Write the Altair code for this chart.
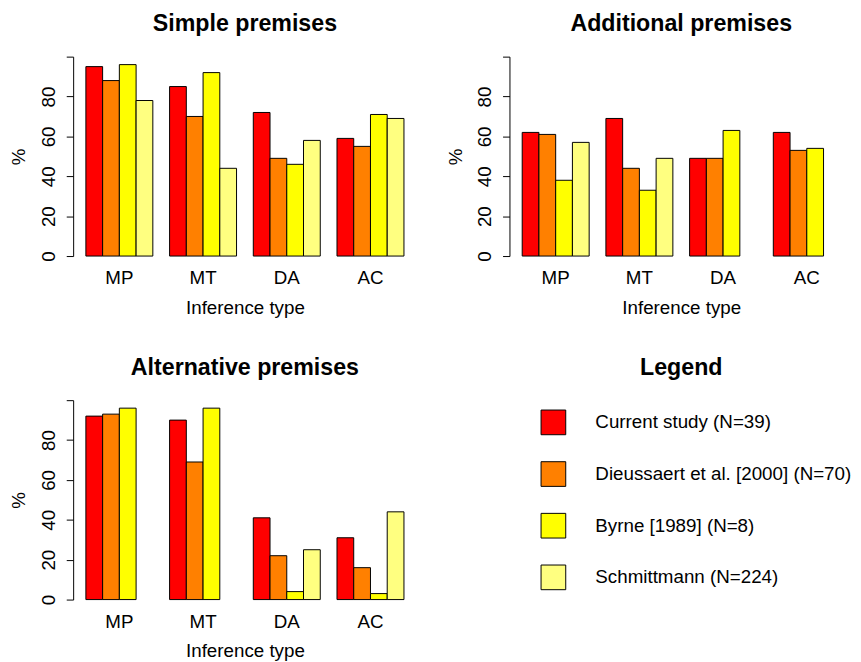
import altair as alt
import pandas as pd

inferences = ["MP", "MT", "DA", "AC"]
series = [
    "Current study (N=39)",
    "Dieussaert et al. [2000] (N=70)",
    "Byrne [1989] (N=8)",
    "Schmittmann (N=224)",
]
colors = ["#FF0000", "#FF8000", "#FFFF00", "#FFFF80"]

# values per series, in order MP, MT, DA, AC (None = missing)
simple_current = [95, 85, 72, 59]
simple_dieussaert = [88, 70, 49, 55]
simple_byrne = [96, 92, 46, 71]
simple_schmittmann = [78, 44, 58, 69]

additional_current = [62, 69, 49, 62]
additional_dieussaert = [61, 44, 49, 53]
additional_byrne = [38, 33, 63, 54]
additional_schmittmann = [57, 49, None, None]

alternative_current = [92, 90, 41, 31]
alternative_dieussaert = [93, 69, 22, 16]
alternative_byrne = [96, 96, 4, 3]
alternative_schmittmann = [None, None, 25, 44]

FONT = "Liberation Sans"


def make_df(cols):
    rows = []
    for s, vals in zip(series, cols):
        for inf, v in zip(inferences, vals):
            if v is not None:
                rows.append({"inference": inf, "series": s, "value": v})
    return pd.DataFrame(rows)


def title(text):
    return alt.TitleParams(
        text=text, font=FONT, fontSize=23.5, fontWeight="bold", color="black",
        anchor="middle", frame="group", baseline="alphabetic", offset=2,
    )


def panel(text, cols):
    df = make_df(cols)
    return (
        alt.Chart(df, title=title(text))
        .mark_bar(stroke="black", strokeWidth=1)
        .encode(
            x=alt.X(
                "inference:N",
                sort=inferences,
                scale=alt.Scale(domain=inferences, paddingInner=0.2, paddingOuter=0.152),
                axis=alt.Axis(
                    title="Inference type", labelAngle=0, ticks=False, tickSize=0,
                    domain=False, labelPadding=28, labelBaseline="alphabetic",
                    labelFont=FONT, labelFontSize=19, labelColor="black",
                    titleFont=FONT, titleFontSize=19, titleFontWeight="normal",
                    titleColor="black", titleX=174, titleY=58,
                    titleBaseline="alphabetic", titleAlign="center",
                ),
            ),
            xOffset=alt.XOffset(
                "series:N", sort=series,
                scale=alt.Scale(domain=series, paddingInner=0, paddingOuter=0),
            ),
            y=alt.Y(
                "value:Q",
                scale=alt.Scale(domain=[0, 100], nice=False, zero=True),
                axis=alt.Axis(
                    values=[0, 20, 40, 60, 80, 100],
                    labelExpr="datum.value == 100 ? '' : datum.label",
                    labelAngle=270, labelAlign="center", labelBaseline="alphabetic",
                    labelPadding=12, tickSize=7, tickColor="black", domainColor="black",
                    labelColor="black", labelFont=FONT, labelFontSize=19,
                    labelFlush=False, labelOverlap=False, grid=False,
                    title="%", titleFont=FONT, titleFontSize=19,
                    titleFontWeight="normal", titleColor="black", titleAngle=270,
                    titleX=-49, titleY=101, titleAlign="center",
                    titleBaseline="alphabetic",
                ),
            ),
            color=alt.Color(
                "series:N", scale=alt.Scale(domain=series, range=colors), legend=None
            ),
        )
        .properties(width=348, height=202)
    )


p1 = panel("Simple premises",
           [simple_current, simple_dieussaert, simple_byrne, simple_schmittmann])
p2 = panel("Additional premises",
           [additional_current, additional_dieussaert, additional_byrne, additional_schmittmann])
p3 = panel("Alternative premises",
           [alternative_current, alternative_dieussaert, alternative_byrne, alternative_schmittmann])

leg_df = pd.DataFrame({"series": series})
leg_y = alt.Y("series:N", sort=series,
              scale=alt.Scale(domain=series, type="point", padding=0.43), axis=None)
leg_base = alt.Chart(leg_df, title=title("Legend"))
squares = leg_base.mark_square(size=625, stroke="black", strokeWidth=1, opacity=1).encode(
    x=alt.value(44.5),
    y=leg_y,
    fill=alt.Fill("series:N", scale=alt.Scale(domain=series, range=colors), legend=None),
)
labels = leg_base.mark_text(
    align="left", baseline="middle", font=FONT, fontSize=19, color="black"
).encode(
    x=alt.value(87),
    y=leg_y,
    text="series:N",
)
p4 = alt.layer(squares, labels).properties(width=348, height=202)

chart = (
    alt.concat(p1, p2, p3, p4, columns=2, spacing={"row": 146, "column": 94}, bounds="flush")
    .properties(padding={"left": 2, "top": 0, "right": 0, "bottom": 0}, background="white")
    .configure_view(stroke=None)
)

chart.save("out.html", embed_options={"renderer": "svg", "actions": False})
